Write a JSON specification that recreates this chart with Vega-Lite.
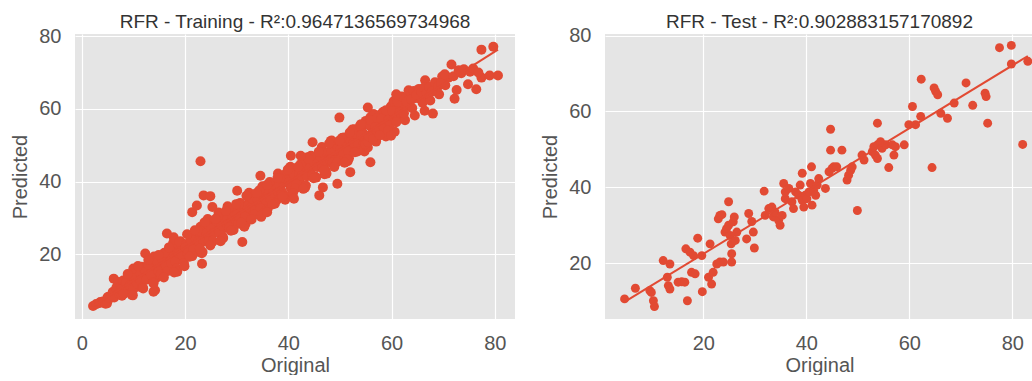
{
  "$schema": "https://vega.github.io/schema/vega-lite/v6.json",
  "padding": {"left": 10, "top": 12, "right": 0, "bottom": 0},
  "background": "white",
  "spacing": 25,
  "config": {
    "font": "Liberation Sans",
    "view": {"fill": "#E5E5E5", "stroke": null},
    "axis": {"grid": true, "gridColor": "white", "gridWidth": 1.2, "domain": false, "ticks": false, "labelFontSize": 20, "labelColor": "#555555", "titleFontSize": 20, "titleColor": "#555555", "titleFontWeight": "normal"},
    "axisX": {"labelPadding": 14, "titlePadding": 2},
    "axisY": {"labelPadding": 14, "titlePadding": 8},
    "title": {"fontSize": 19, "fontWeight": "normal", "color": "#333333", "offset": -6}
  },
  "datasets": {
    "train": [
      {"original":2.2,"predicted":5.8},{"original":2.8,"predicted":6.3},{"original":3.5,"predicted":6.6},{"original":3.6,"predicted":6.9},{"original":4.1,"predicted":7.0},{"original":4.6,"predicted":6.4},{"original":4.9,"predicted":6.5},{"original":5.0,"predicted":8.2},{"original":5.2,"predicted":8.3},{"original":5.5,"predicted":7.9},{"original":6.0,"predicted":9.6},{"original":6.2,"predicted":13.3},{"original":6.3,"predicted":8.1},{"original":6.7,"predicted":10.8},{"original":7.0,"predicted":12.4},{"original":7.2,"predicted":9.3},{"original":7.5,"predicted":11.0},{"original":7.8,"predicted":8.6},{"original":8.0,"predicted":12.8},{"original":8.3,"predicted":10.2},{"original":8.5,"predicted":11.6},{"original":8.8,"predicted":13.1},{"original":9.0,"predicted":9.8},{"original":9.2,"predicted":12.0},
      {"original":9.5,"predicted":12.4},{"original":9.8,"predicted":10.9},{"original":10.2,"predicted":14.8},{"original":10.5,"predicted":12.6},{"original":10.9,"predicted":14.3},{"original":11.2,"predicted":11.1},{"original":11.6,"predicted":16.6},{"original":11.9,"predicted":13.3},{"original":12.3,"predicted":14.7},{"original":12.6,"predicted":16.5},{"original":13.0,"predicted":13.2},{"original":13.3,"predicted":16.9},{"original":13.7,"predicted":15.2},{"original":14.0,"predicted":19.4},{"original":14.4,"predicted":13.5},{"original":14.7,"predicted":17.4},{"original":15.1,"predicted":16.0},{"original":15.4,"predicted":19.7},{"original":15.8,"predicted":17.5},{"original":16.1,"predicted":16.2},{"original":16.5,"predicted":19.6},{"original":16.8,"predicted":21.0},{"original":17.2,"predicted":18.5},{"original":17.5,"predicted":15.9},{"original":17.9,"predicted":19.8},{"original":18.2,"predicted":21.4},{"original":18.6,"predicted":18.9},{"original":18.9,"predicted":22.3},{"original":19.3,"predicted":18.6},{"original":19.6,"predicted":21.7},
      {"original":7.6,"predicted":10.3},{"original":8.1,"predicted":9.1},{"original":8.6,"predicted":12.2},{"original":9.3,"predicted":11.4},{"original":9.6,"predicted":14.2},{"original":10.0,"predicted":10.4},{"original":10.4,"predicted":13.6},{"original":10.7,"predicted":11.9},{"original":11.0,"predicted":15.3},{"original":11.4,"predicted":12.8},{"original":11.8,"predicted":10.9},{"original":12.1,"predicted":15.9},{"original":12.5,"predicted":13.0},{"original":12.9,"predicted":17.1},{"original":13.4,"predicted":14.4},{"original":13.9,"predicted":12.4},{"original":14.2,"predicted":10.1},{"original":14.5,"predicted":18.2},{"original":14.9,"predicted":15.3},{"original":15.3,"predicted":14.6},{"original":15.6,"predicted":18.8},{"original":16.0,"predicted":20.4},{"original":16.3,"predicted":17.0},{"original":16.7,"predicted":15.4},{"original":17.0,"predicted":21.8},{"original":17.4,"predicted":17.6},{"original":17.7,"predicted":23.1},{"original":17.8,"predicted":24.7},{"original":18.1,"predicted":18.0},{"original":18.4,"predicted":16.1},{"original":18.5,"predicted":15.2},{"original":18.8,"predicted":20.3},{"original":19.1,"predicted":23.6},{"original":19.4,"predicted":19.9},{"original":19.8,"predicted":17.6},{"original":16.5,"predicted":25.7},{"original":12.3,"predicted":20.2},{"original":10.0,"predicted":16.1},{"original":9.7,"predicted":8.8},{"original":13.9,"predicted":9.7},
      {"original":8.9,"predicted":14.6},{"original":9.9,"predicted":8.7},{"original":10.9,"predicted":16.8},{"original":11.9,"predicted":10.6},{"original":12.9,"predicted":18.4},{"original":13.9,"predicted":12.0},{"original":14.9,"predicted":19.8},{"original":15.9,"predicted":13.6},{"original":16.9,"predicted":21.9},{"original":17.9,"predicted":15.0},{"original":18.9,"predicted":23.4},{"original":19.9,"predicted":16.7},
      {"original":20.0,"predicted":22.0},{"original":20.5,"predicted":20.2},{"original":21.0,"predicted":25.0},{"original":21.5,"predicted":22.5},{"original":22.0,"predicted":24.5},{"original":22.5,"predicted":20.7},{"original":23.0,"predicted":27.6},{"original":23.5,"predicted":23.6},{"original":24.0,"predicted":25.2},{"original":24.5,"predicted":27.7},{"original":25.0,"predicted":23.5},{"original":25.5,"predicted":28.2},{"original":26.0,"predicted":26.1},{"original":26.5,"predicted":31.5},{"original":27.0,"predicted":24.0},{"original":27.5,"predicted":29.2},{"original":28.0,"predicted":27.3},{"original":28.5,"predicted":32.1},{"original":29.0,"predicted":29.4},{"original":29.5,"predicted":27.9},{"original":30.0,"predicted":32.0},{"original":30.5,"predicted":34.0},{"original":31.0,"predicted":30.8},{"original":31.5,"predicted":27.6},{"original":32.0,"predicted":32.6},{"original":32.5,"predicted":34.7},{"original":33.0,"predicted":31.6},{"original":33.5,"predicted":36.0},{"original":34.0,"predicted":31.2},{"original":34.5,"predicted":35.3},{"original":35.0,"predicted":38.7},{"original":35.5,"predicted":34.6},{"original":36.0,"predicted":32.5},{"original":36.5,"predicted":37.4},{"original":37.0,"predicted":39.2},{"original":37.5,"predicted":36.1},{"original":38.0,"predicted":42.2},{"original":38.5,"predicted":37.9},{"original":39.0,"predicted":36.6},{"original":39.5,"predicted":40.5},
      {"original":40.0,"predicted":40.0},{"original":40.5,"predicted":38.2},{"original":41.0,"predicted":43.0},{"original":41.5,"predicted":40.5},{"original":42.0,"predicted":42.5},{"original":42.5,"predicted":38.7},{"original":43.0,"predicted":45.6},{"original":43.5,"predicted":41.6},{"original":44.0,"predicted":43.2},{"original":44.5,"predicted":45.7},{"original":45.0,"predicted":41.5},{"original":45.5,"predicted":46.2},{"original":46.0,"predicted":44.1},{"original":46.5,"predicted":49.5},{"original":47.0,"predicted":42.0},{"original":47.5,"predicted":47.2},{"original":48.0,"predicted":45.3},{"original":48.5,"predicted":50.1},{"original":49.0,"predicted":47.4},{"original":49.5,"predicted":45.9},{"original":50.0,"predicted":50.0},{"original":50.5,"predicted":52.0},{"original":51.0,"predicted":48.8},{"original":51.5,"predicted":45.6},{"original":52.0,"predicted":50.6},{"original":52.5,"predicted":52.7},{"original":53.0,"predicted":49.6},{"original":53.5,"predicted":54.0},{"original":54.0,"predicted":49.2},{"original":54.5,"predicted":53.3},{"original":55.0,"predicted":56.7},
      {"original":20.25,"predicted":22.8},{"original":20.75,"predicted":22.1},{"original":21.25,"predicted":20.5},{"original":21.75,"predicted":25.6},{"original":22.25,"predicted":21.8},{"original":22.75,"predicted":24.8},{"original":23.25,"predicted":20.3},{"original":23.75,"predicted":28.7},{"original":24.25,"predicted":24.4},{"original":24.75,"predicted":27.2},{"original":25.25,"predicted":23.3},{"original":25.75,"predicted":26.9},{"original":26.25,"predicted":29.3},{"original":26.75,"predicted":26.1},{"original":27.25,"predicted":25.0},{"original":27.75,"predicted":29.1},{"original":28.25,"predicted":33.2},{"original":28.75,"predicted":29.1},{"original":29.25,"predicted":27.9},{"original":29.75,"predicted":31.9},{"original":30.25,"predicted":28.4},{"original":30.75,"predicted":34.1},{"original":31.25,"predicted":30.9},{"original":31.75,"predicted":28.4},{"original":32.25,"predicted":33.4},{"original":32.75,"predicted":36.4},{"original":33.25,"predicted":32.4},{"original":33.75,"predicted":31.5},{"original":34.25,"predicted":35.5},{"original":34.75,"predicted":30.3},{"original":35.25,"predicted":35.5},{"original":35.75,"predicted":37.7},{"original":36.25,"predicted":34.7},{"original":36.75,"predicted":36.1},{"original":37.25,"predicted":38.8},{"original":37.75,"predicted":34.9},{"original":38.25,"predicted":38.3},{"original":38.75,"predicted":37.2},{"original":39.25,"predicted":41.9},{"original":39.75,"predicted":35.9},
      {"original":40.25,"predicted":40.8},{"original":40.75,"predicted":40.1},{"original":41.25,"predicted":38.5},{"original":41.75,"predicted":43.6},{"original":42.25,"predicted":39.8},{"original":42.75,"predicted":42.8},{"original":43.25,"predicted":38.3},{"original":43.75,"predicted":46.7},{"original":44.25,"predicted":42.4},{"original":44.75,"predicted":45.2},{"original":45.25,"predicted":41.3},{"original":45.75,"predicted":44.9},{"original":46.25,"predicted":47.3},{"original":46.75,"predicted":44.1},{"original":47.25,"predicted":43.0},{"original":47.75,"predicted":47.1},{"original":48.25,"predicted":51.2},{"original":48.75,"predicted":47.1},{"original":49.25,"predicted":45.9},{"original":49.75,"predicted":49.9},{"original":50.25,"predicted":46.4},{"original":50.75,"predicted":52.1},{"original":51.25,"predicted":48.9},{"original":51.75,"predicted":46.4},{"original":52.25,"predicted":51.4},{"original":52.75,"predicted":54.4},{"original":53.25,"predicted":50.4},{"original":53.75,"predicted":49.5},{"original":54.25,"predicted":53.5},{"original":54.75,"predicted":48.3},
      {"original":20.1,"predicted":21.9},{"original":20.6,"predicted":21.1},{"original":21.1,"predicted":23.9},{"original":21.6,"predicted":21.3},{"original":22.1,"predicted":24.2},{"original":22.6,"predicted":23.6},{"original":23.1,"predicted":26.2},{"original":23.6,"predicted":23.5},{"original":24.1,"predicted":25.7},{"original":24.6,"predicted":23.6},{"original":25.1,"predicted":27.2},{"original":25.6,"predicted":26.0},{"original":26.1,"predicted":29.0},{"original":26.6,"predicted":26.0},{"original":27.1,"predicted":27.9},{"original":27.6,"predicted":29.9},{"original":28.1,"predicted":28.1},{"original":28.6,"predicted":27.3},{"original":29.1,"predicted":30.6},{"original":29.6,"predicted":31.4},{"original":30.1,"predicted":30.9},{"original":30.6,"predicted":30.1},{"original":31.1,"predicted":32.9},{"original":31.6,"predicted":30.3},{"original":32.1,"predicted":33.2},{"original":32.6,"predicted":32.6},{"original":33.1,"predicted":35.2},{"original":33.6,"predicted":32.5},{"original":34.1,"predicted":34.7},{"original":34.6,"predicted":32.6},{"original":35.1,"predicted":36.2},{"original":35.6,"predicted":35.0},{"original":36.1,"predicted":38.0},{"original":36.6,"predicted":35.0},{"original":37.1,"predicted":36.9},{"original":37.6,"predicted":38.9},{"original":38.1,"predicted":37.1},{"original":38.6,"predicted":36.3},{"original":39.1,"predicted":39.6},{"original":39.6,"predicted":40.4},
      {"original":40.1,"predicted":39.9},{"original":40.6,"predicted":39.1},{"original":41.1,"predicted":41.9},{"original":41.6,"predicted":39.3},{"original":42.1,"predicted":42.2},{"original":42.6,"predicted":41.6},{"original":43.1,"predicted":44.2},{"original":43.6,"predicted":41.5},{"original":44.1,"predicted":43.7},{"original":44.6,"predicted":41.6},{"original":45.1,"predicted":45.2},{"original":45.6,"predicted":44.0},{"original":46.1,"predicted":47.0},{"original":46.6,"predicted":44.0},{"original":47.1,"predicted":45.9},{"original":47.6,"predicted":47.9},{"original":48.1,"predicted":46.1},{"original":48.6,"predicted":45.3},{"original":49.1,"predicted":48.6},{"original":49.6,"predicted":49.4},{"original":50.1,"predicted":48.9},{"original":50.6,"predicted":48.1},{"original":51.1,"predicted":50.9},{"original":51.6,"predicted":48.3},{"original":52.1,"predicted":51.2},{"original":52.6,"predicted":50.6},{"original":53.1,"predicted":53.2},{"original":53.6,"predicted":50.5},{"original":54.1,"predicted":52.7},{"original":54.6,"predicted":50.6},
      {"original":20.4,"predicted":25.5},{"original":21.4,"predicted":19.5},{"original":22.4,"predicted":26.5},{"original":23.4,"predicted":20.6},{"original":24.4,"predicted":29.7},{"original":25.4,"predicted":23.7},{"original":26.4,"predicted":30.4},{"original":27.4,"predicted":24.5},{"original":28.4,"predicted":32.7},{"original":29.4,"predicted":26.7},{"original":30.4,"predicted":33.7},{"original":31.4,"predicted":27.8},{"original":32.4,"predicted":36.9},{"original":33.4,"predicted":30.9},{"original":34.4,"predicted":37.6},{"original":35.4,"predicted":31.7},{"original":36.4,"predicted":39.9},{"original":37.4,"predicted":33.9},{"original":38.4,"predicted":40.9},{"original":39.4,"predicted":35.0},{"original":40.4,"predicted":44.1},{"original":41.4,"predicted":38.1},{"original":42.4,"predicted":44.8},{"original":43.4,"predicted":38.9},{"original":44.4,"predicted":47.1},{"original":45.4,"predicted":41.1},{"original":46.4,"predicted":48.1},{"original":47.4,"predicted":42.2},{"original":48.4,"predicted":51.3},{"original":49.4,"predicted":45.3},{"original":50.4,"predicted":52.0},{"original":51.4,"predicted":46.1},{"original":52.4,"predicted":54.3},{"original":53.4,"predicted":48.3},{"original":54.4,"predicted":55.3},{"original":55.4,"predicted":49.4},{"original":56.4,"predicted":58.5},{"original":57.4,"predicted":52.5},{"original":58.4,"predicted":59.2},{"original":59.4,"predicted":53.3},
      {"original":20.9,"predicted":19.3},{"original":21.9,"predicted":26.6},{"original":22.9,"predicted":21.5},{"original":23.9,"predicted":28.9},{"original":24.9,"predicted":22.4},{"original":25.9,"predicted":29.7},{"original":26.9,"predicted":23.6},{"original":27.9,"predicted":31.9},{"original":28.9,"predicted":26.5},{"original":29.9,"predicted":33.8},{"original":30.9,"predicted":28.7},{"original":31.9,"predicted":36.1},{"original":32.9,"predicted":29.6},{"original":33.9,"predicted":36.9},{"original":34.9,"predicted":30.8},{"original":35.9,"predicted":39.1},{"original":36.9,"predicted":33.7},{"original":37.9,"predicted":41.0},{"original":38.9,"predicted":35.9},{"original":39.9,"predicted":43.3},{"original":40.9,"predicted":36.8},{"original":41.9,"predicted":44.1},{"original":42.9,"predicted":38.0},{"original":43.9,"predicted":46.3},{"original":44.9,"predicted":40.9},{"original":45.9,"predicted":48.2},{"original":46.9,"predicted":43.1},{"original":47.9,"predicted":50.5},{"original":48.9,"predicted":44.0},{"original":49.9,"predicted":51.3},{"original":50.9,"predicted":45.2},{"original":51.9,"predicted":53.5},{"original":52.9,"predicted":48.1},{"original":53.9,"predicted":55.4},{"original":54.9,"predicted":50.3},{"original":55.9,"predicted":57.7},{"original":56.9,"predicted":51.2},{"original":57.9,"predicted":58.5},{"original":58.9,"predicted":52.4},{"original":59.9,"predicted":60.7},
      {"original":55.4,"predicted":50.9},{"original":55.8,"predicted":55.4},{"original":56.2,"predicted":53.3},{"original":56.6,"predicted":58.5},{"original":57.0,"predicted":51.0},{"original":57.4,"predicted":56.1},{"original":57.8,"predicted":54.1},{"original":58.2,"predicted":58.8},{"original":58.6,"predicted":56.0},{"original":59.0,"predicted":54.4},{"original":59.4,"predicted":58.5},{"original":59.8,"predicted":60.3},{"original":60.2,"predicted":57.1},{"original":60.6,"predicted":53.7},{"original":61.0,"predicted":58.7},{"original":61.4,"predicted":60.7},{"original":61.8,"predicted":57.5},{"original":62.2,"predicted":61.8},{"original":62.6,"predicted":56.9},{"original":63.0,"predicted":60.9},{"original":63.5,"predicted":64.4},{"original":64.0,"predicted":60.2},{"original":64.5,"predicted":58.2},{"original":65.0,"predicted":63.0},{"original":65.5,"predicted":64.9},{"original":66.0,"predicted":61.7},{"original":66.5,"predicted":67.9},{"original":67.0,"predicted":63.5},{"original":67.5,"predicted":62.3},{"original":68.0,"predicted":66.1},{"original":68.6,"predicted":65.7},{"original":69.2,"predicted":64.0},{"original":69.8,"predicted":68.9},{"original":70.4,"predicted":66.5},{"original":71.0,"predicted":68.6},
      {"original":55.6,"predicted":52.4},{"original":56.0,"predicted":56.9},{"original":56.4,"predicted":51.7},{"original":56.9,"predicted":55.0},{"original":57.2,"predicted":57.5},{"original":57.7,"predicted":52.8},{"original":58.0,"predicted":57.3},{"original":58.4,"predicted":55.2},{"original":58.9,"predicted":59.6},{"original":59.3,"predicted":56.8},{"original":59.7,"predicted":55.6},{"original":60.1,"predicted":59.4},{"original":60.4,"predicted":62.1},{"original":60.9,"predicted":56.3},{"original":61.2,"predicted":61.9},{"original":61.6,"predicted":59.1},{"original":62.0,"predicted":63.4},{"original":62.4,"predicted":58.8},{"original":62.9,"predicted":62.0},{"original":63.3,"predicted":65.1},{"original":63.8,"predicted":62.6},{"original":64.3,"predicted":64.9},{"original":64.8,"predicted":63.8},{"original":65.3,"predicted":65.5},{"original":65.8,"predicted":64.6},{"original":66.3,"predicted":65.9},{"original":66.8,"predicted":64.3},{"original":67.3,"predicted":66.0},{"original":67.8,"predicted":64.7},{"original":68.4,"predicted":67.3},{"original":69.0,"predicted":66.2},{"original":69.6,"predicted":67.0},
      {"original":71.6,"predicted":72.2},{"original":70.3,"predicted":69.5},{"original":72.2,"predicted":62.8},{"original":72.6,"predicted":65.2},{"original":72.0,"predicted":69.0},{"original":73.0,"predicted":70.6},{"original":73.5,"predicted":69.8},{"original":74.0,"predicted":70.9},{"original":74.8,"predicted":66.8},{"original":75.2,"predicted":70.2},{"original":75.8,"predicted":71.1},{"original":76.4,"predicted":65.4},{"original":77.4,"predicted":76.3},{"original":77.4,"predicted":68.6},{"original":79.0,"predicted":69.2},{"original":79.7,"predicted":77.1},{"original":80.6,"predicted":69.2},{"original":76.8,"predicted":70.0},
      {"original":66.4,"predicted":59.5},{"original":68.0,"predicted":58.7},{"original":60.9,"predicted":64.0},{"original":59.3,"predicted":54.0},{"original":59.9,"predicted":52.6},{"original":49.9,"predicted":57.6},{"original":54.1,"predicted":55.8},{"original":55.4,"predicted":60.4},{"original":55.9,"predicted":45.3},{"original":52.0,"predicted":42.6},{"original":49.5,"predicted":39.4},{"original":46.0,"predicted":36.2},{"original":46.7,"predicted":38.4},{"original":31.1,"predicted":23.4},{"original":23.3,"predicted":17.4},{"original":23.0,"predicted":45.6},{"original":23.6,"predicted":36.2},{"original":24.9,"predicted":36.0},{"original":25.3,"predicted":33.0},{"original":21.4,"predicted":31.6},{"original":22.3,"predicted":33.4},{"original":30.1,"predicted":37.5},{"original":34.6,"predicted":41.6},{"original":40.5,"predicted":47.1},{"original":44.7,"predicted":50.8},{"original":42.4,"predicted":47.1},{"original":35.9,"predicted":31.6},{"original":41.1,"predicted":35.3}
    ],
    "test": [
      {"original":4.7,"predicted":10.6},{"original":6.8,"predicted":13.4},{"original":9.6,"predicted":12.8},{"original":9.9,"predicted":12.3},{"original":10.3,"predicted":10.1},{"original":10.5,"predicted":8.6},{"original":12.2,"predicted":20.7},{"original":13.5,"predicted":19.8},{"original":13.0,"predicted":16.3},{"original":13.2,"predicted":14.1},{"original":13.5,"predicted":13.2},{"original":15.1,"predicted":15.0},{"original":15.8,"predicted":15.1},{"original":16.4,"predicted":15.0},{"original":16.6,"predicted":23.8},{"original":16.9,"predicted":10.1},{"original":17.4,"predicted":22.9},{"original":17.7,"predicted":17.6},{"original":18.1,"predicted":22.0},{"original":18.4,"predicted":17.2},{"original":18.9,"predicted":26.6},{"original":19.7,"predicted":22.0},{"original":19.8,"predicted":12.5},{"original":21.0,"predicted":16.3},{"original":21.3,"predicted":25.1},{"original":21.6,"predicted":14.5},{"original":21.9,"predicted":17.6},{"original":22.6,"predicted":19.8},{"original":23.2,"predicted":20.3},{"original":23.9,"predicted":20.3},{"original":22.9,"predicted":31.7},{"original":23.2,"predicted":32.6},{"original":23.6,"predicted":32.8},{"original":24.2,"predicted":28.2},{"original":24.5,"predicted":29.1},{"original":24.9,"predicted":36.2},{"original":24.9,"predicted":30.0},{"original":25.2,"predicted":27.3},{"original":25.4,"predicted":25.1},{"original":25.5,"predicted":22.5},{"original":25.5,"predicted":20.3},{"original":25.8,"predicted":30.9},{"original":26.0,"predicted":32.2},{"original":26.2,"predicted":26.0},{"original":26.5,"predicted":28.2},{"original":28.4,"predicted":26.4},{"original":28.8,"predicted":33.1},{"original":29.4,"predicted":31.0},{"original":29.7,"predicted":28.2},{"original":29.9,"predicted":24.0},{"original":31.8,"predicted":39.0},{"original":32.0,"predicted":32.6},{"original":32.7,"predicted":34.4},{"original":33.3,"predicted":34.8},{"original":33.6,"predicted":32.2},{"original":33.9,"predicted":33.5},{"original":34.6,"predicted":31.3},{"original":34.9,"predicted":30.0},{"original":35.3,"predicted":32.6},{"original":35.6,"predicted":41.0},{"original":35.9,"predicted":37.0},{"original":35.9,"predicted":38.8},{"original":36.6,"predicted":39.7},{"original":37.2,"predicted":36.2},{"original":37.5,"predicted":34.4},{"original":37.9,"predicted":38.8},{"original":38.5,"predicted":37.9},{"original":38.8,"predicted":40.6},{"original":39.2,"predicted":36.6},{"original":39.2,"predicted":43.7},{"original":39.5,"predicted":34.8},{"original":39.8,"predicted":37.9},{"original":40.1,"predicted":37.0},{"original":40.5,"predicted":38.8},{"original":40.8,"predicted":41.0},{"original":41.0,"predicted":45.4},{"original":41.1,"predicted":35.3},{"original":41.4,"predicted":39.2},{"original":41.8,"predicted":37.9},{"original":42.1,"predicted":40.6},{"original":42.4,"predicted":42.3},{"original":43.7,"predicted":39.7},{"original":44.4,"predicted":44.1},{"original":44.7,"predicted":49.8},{"original":44.7,"predicted":55.3},{"original":45.0,"predicted":45.0},{"original":45.3,"predicted":45.4},{"original":45.9,"predicted":45.4},{"original":46.9,"predicted":49.8},{"original":47.9,"predicted":41.9},{"original":48.2,"predicted":43.2},{"original":48.6,"predicted":44.5},{"original":48.9,"predicted":45.4},{"original":49.9,"predicted":33.9},{"original":50.8,"predicted":48.5},{"original":51.2,"predicted":47.2},{"original":52.8,"predicted":49.4},{"original":53.1,"predicted":50.7},{"original":53.4,"predicted":48.5},{"original":53.8,"predicted":51.2},{"original":53.8,"predicted":56.9},{"original":53.8,"predicted":47.6},{"original":54.4,"predicted":52.0},{"original":54.7,"predicted":50.3},{"original":55.4,"predicted":51.2},{"original":56.0,"predicted":45.2},{"original":56.7,"predicted":51.2},{"original":57.0,"predicted":48.5},{"original":57.3,"predicted":50.7},{"original":59.0,"predicted":51.2},{"original":59.9,"predicted":56.5},{"original":60.6,"predicted":61.3},{"original":61.2,"predicted":56.5},{"original":62.2,"predicted":58.7},{"original":62.3,"predicted":68.5},{"original":64.4,"predicted":45.2},{"original":64.8,"predicted":66.2},{"original":65.1,"predicted":65.3},{"original":65.5,"predicted":64.4},{"original":66.1,"predicted":59.5},{"original":67.4,"predicted":58.2},{"original":68.7,"predicted":62.2},{"original":71.0,"predicted":67.5},{"original":72.3,"predicted":61.6},{"original":74.7,"predicted":64.8},{"original":74.9,"predicted":63.9},{"original":75.2,"predicted":56.9},{"original":77.5,"predicted":76.8},{"original":79.8,"predicted":77.4},{"original":79.8,"predicted":72.5},{"original":82.0,"predicted":51.3},{"original":83.0,"predicted":73.2}
    ],
    "trainLine": [{"original":2.2,"predicted":5.8},{"original":80.6,"predicted":76.3}],
    "testLine": [{"original":4.7,"predicted":9.8},{"original":83.0,"predicted":74.6}]
  },
  "hconcat": [
    {
      "title": "RFR - Training - R²:0.9647136569734968",
      "width": 440,
      "height": 285,
      "layer": [
        {
          "data": {"name": "train"},
          "mark": {"type": "circle", "size": 100, "color": "#E24A33", "opacity": 1, "clip": true},
          "encoding": {
            "x": {"field": "original", "type": "quantitative", "title": "Original", "scale": {"domain": [-1.3, 83.9], "nice": false, "zero": false}, "axis": {"values": [0, 20, 40, 60, 80]}},
            "y": {"field": "predicted", "type": "quantitative", "title": "Predicted", "scale": {"domain": [2.2, 80.6], "nice": false, "zero": false}, "axis": {"values": [20, 40, 60, 80]}}
          }
        },
        {
          "data": {"name": "trainLine"},
          "mark": {"type": "line", "color": "#E24A33", "strokeWidth": 2, "clip": true},
          "encoding": {
            "x": {"field": "original", "type": "quantitative"},
            "y": {"field": "predicted", "type": "quantitative"}
          }
        }
      ]
    },
    {
      "title": "RFR - Test - R²:0.902883157170892",
      "width": 429,
      "height": 285,
      "layer": [
        {
          "data": {"name": "test"},
          "mark": {"type": "circle", "size": 80, "color": "#E24A33", "opacity": 1, "clip": true},
          "encoding": {
            "x": {"field": "original", "type": "quantitative", "title": "Original", "scale": {"domain": [0.9, 84.2], "nice": false, "zero": false}, "axis": {"values": [20, 40, 60, 80]}},
            "y": {"field": "predicted", "type": "quantitative", "title": "Predicted", "scale": {"domain": [5.3, 80.4], "nice": false, "zero": false}, "axis": {"values": [20, 40, 60, 80]}}
          }
        },
        {
          "data": {"name": "testLine"},
          "mark": {"type": "line", "color": "#E24A33", "strokeWidth": 2, "clip": true},
          "encoding": {
            "x": {"field": "original", "type": "quantitative"},
            "y": {"field": "predicted", "type": "quantitative"}
          }
        }
      ]
    }
  ]
}
